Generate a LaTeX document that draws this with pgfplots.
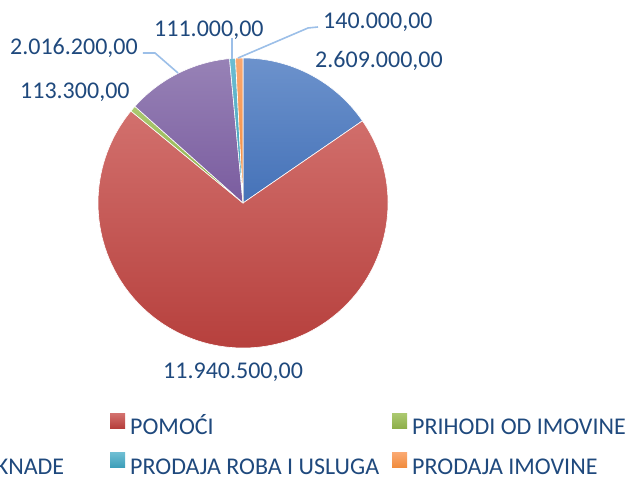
\documentclass[border=0pt]{standalone}
\usepackage{pgfplots}
\pgfplotsset{compat=1.18}
\usepackage{fontspec}
\setmainfont{Carlito}
\definecolor{txt}{HTML}{1F497D}
\definecolor{lead}{HTML}{9CBFE8}
\definecolor{blueT}{HTML}{6C92CC}\definecolor{blueB}{HTML}{4572B8}
\definecolor{redT}{HTML}{D2706D}\definecolor{redB}{HTML}{B43C39}
\definecolor{greenT}{HTML}{AAC86F}\definecolor{greenB}{HTML}{8CAE48}
\definecolor{purpleT}{HTML}{9782B6}\definecolor{purpleB}{HTML}{7A5C9F}
\definecolor{cyanT}{HTML}{6DBDD2}\definecolor{cyanB}{HTML}{3A9DB8}
\definecolor{orangeT}{HTML}{FAA870}\definecolor{orangeB}{HTML}{F08A3A}
% values
\def\vA{2609000}\def\vB{11940500}\def\vC{113300}\def\vD{2016200}\def\vE{111000}\def\vF{140000}
\edef\tot{\fpeval{\vA+\vB+\vC+\vD+\vE+\vF}}
\edef\aA{90}
\edef\aB{\fpeval{round(\aA-360*\vA/\tot,4)}}
\edef\aC{\fpeval{round(\aB-360*\vB/\tot,4)}}
\edef\aD{\fpeval{round(\aC-360*\vC/\tot,4)}}
\edef\aE{\fpeval{round(\aD-360*\vD/\tot,4)}}
\edef\aF{\fpeval{round(\aE-360*\vE/\tot,4)}}
\edef\aG{\fpeval{round(\aF-360*\vF/\tot,4)}}
\newcommand\slice[4]{\path[top color=#3,bottom color=#4,draw=white,line width=0.6pt]
  (axis cs:243,278) -- ++(#1:145pt) arc[start angle=#1,end angle=#2,radius=145pt] -- cycle;}
\newcommand\lbl[3]{\node[anchor=base west,inner sep=0pt,text=txt,font=\fontsize{24}{28}\selectfont] at (axis cs:#1,#2) {#3};}
\newcommand\ent[1]{\makebox[267pt][l]{\rule[-13.3pt]{0pt}{42pt}\hspace{5pt}#1}}
\begin{document}
\begin{tikzpicture}
\path[use as bounding box] (0,0) rectangle (628pt,481pt);
\clip (0,0) rectangle (628pt,481pt);
\begin{axis}[
  at={(0,0)}, anchor=south west,
  width=628pt, height=481pt, scale only axis,
  xmin=0, xmax=628, ymin=0, ymax=481,
  hide axis, clip=false,
  legend columns=3,
  legend style={at={(axis description cs:-0.27389,0.15593)}, anchor=north west,
    draw=none, fill=none, inner sep=0pt, row sep=9pt, column sep=0pt,
    nodes={inner sep=0pt, anchor=west, text=txt, font=\fontsize{24}{28}\selectfont}},
  legend image code/.code={\path[#1,draw=none] (0pt,-7.5pt) rectangle (15pt,7.5pt);},
]
\slice{\aA}{\aB}{blueT}{blueB}
\slice{\aB}{\aC}{redT}{redB}
\slice{\aC}{\aD}{greenT}{greenB}
\slice{\aD}{\aE}{purpleT}{purpleB}
\slice{\aE}{\aF}{cyanT}{cyanB}
\slice{\aF}{\aG}{orangeT}{orangeB}
\draw[lead,line width=1.6pt] (axis cs:143,428) -- (axis cs:155,428) -- (axis cs:178,408);
\draw[lead,line width=1.6pt] (axis cs:232,443) -- (axis cs:232,422);
\draw[lead,line width=1.6pt] (axis cs:318,454) -- (axis cs:308,453) -- (axis cs:238,423);
\lbl{315}{413}{2.609.000,00}
\lbl{323}{452}{140.000,00}
\lbl{154}{444}{111.000,00}
\lbl{10}{426}{2.016.200,00}
\lbl{20}{382}{113.300,00}
\lbl{163}{102}{11.940.500,00}
\addlegendimage{top color=blueT,bottom color=blueB}
\addlegendentry{\ent{POREZI}}
\addlegendimage{top color=redT,bottom color=redB}
\addlegendentry{\ent{POMOĆI}}
\addlegendimage{top color=greenT,bottom color=greenB}
\addlegendentry{\ent{PRIHODI OD IMOVINE}}
\addlegendimage{top color=purpleT,bottom color=purpleB}
\addlegendentry{\ent{PRISTOJBE I NAKNADE}}
\addlegendimage{top color=cyanT,bottom color=cyanB}
\addlegendentry{\ent{PRODAJA ROBA I USLUGA}}
\addlegendimage{top color=orangeT,bottom color=orangeB}
\addlegendentry{\ent{PRODAJA IMOVINE}}
\end{axis}
\end{tikzpicture}
\end{document}
